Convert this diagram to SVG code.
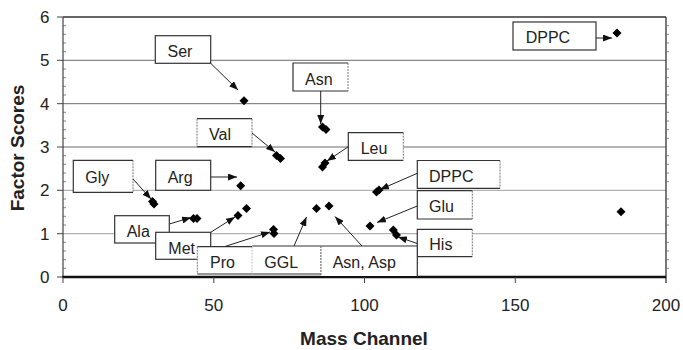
<svg xmlns="http://www.w3.org/2000/svg" xmlns:xlink="http://www.w3.org/1999/xlink" width="683" height="350" viewBox="0 0 683 350">
  <style>
    .grid { stroke: #6a6a6a; stroke-width: 1; }
    .gridl { stroke: #a0a0a0; stroke-width: 1; }
    .frame { stroke: #333; stroke-width: 1.3; fill: none; }
    .tick { stroke: #444; stroke-width: 1; }
    .mtick { stroke: #666; stroke-width: 0.8; }
    .tl { font-family: "Liberation Sans", Arial, sans-serif; font-size: 17px; fill: #222; }
    .title { font-family: "Liberation Sans", Arial, sans-serif; font-size: 19px; font-weight: bold; fill: #222; }
    .box { fill: #fff; stroke: none; }
    .edge { fill: none; stroke: #333; stroke-width: 1.2; }
    .dotted { fill: none; stroke: #777; stroke-width: 1; stroke-dasharray: 2 1; }
    .lbl { font-family: "Liberation Sans", Arial, sans-serif; font-size: 16px; fill: #222; }
    .conn { stroke: #222; stroke-width: 1; fill: none; marker-end: url(#ah); }
    .pt { fill: #000; }
  </style>
  <defs>
    <marker id="ah" markerUnits="userSpaceOnUse" markerWidth="9" markerHeight="7" refX="9" refY="3.5" orient="auto">
      <path d="M0,0 L9,3.5 L0,7 Z" fill="#111"/>
    </marker>
    <path id="dia" d="M0,-4.5 L4.5,0 L0,4.5 L-4.5,0 Z"/>
  </defs>

  <!-- plot area: x = 63 + mass*3.015, y = 277 - score*43.33 -->
  <g id="grid">
    <line class="gridl" x1="63" y1="233.7" x2="666" y2="233.7"/>
    <line class="gridl" x1="63" y1="190.3" x2="666" y2="190.3"/>
    <line class="grid" x1="63" y1="147" x2="666" y2="147"/>
    <line class="grid" x1="63" y1="103.7" x2="666" y2="103.7"/>
    <line class="grid" x1="63" y1="60.3" x2="666" y2="60.3"/>
  </g>

  <g id="axes">
    <!-- frame -->
    <line class="frame" x1="63" y1="17" x2="666" y2="17"/>
    <line class="frame" x1="666" y1="17" x2="666" y2="283"/>
    <line x1="63" y1="17" x2="63" y2="277" stroke="#444" stroke-width="1.2"/>
    <line x1="62" y1="277" x2="666" y2="277" stroke="#111" stroke-width="2.6"/>
    <!-- major y ticks -->
    <path class="tick" d="M57,17H63 M57,60.3H63 M57,103.7H63 M57,147H63 M57,190.3H63 M57,233.7H63 M57,277H63"/>
    <!-- minor y ticks, left and right -->
    <path class="mtick" d="M63,25.7h3 M63,34.3h3 M63,43h3 M63,51.7h3 M63,69h3 M63,77.7h3 M63,86.3h3 M63,95h3 M63,112.3h3 M63,121h3 M63,129.7h3 M63,138.3h3 M63,155.7h3 M63,164.3h3 M63,173h3 M63,181.7h3 M63,199h3 M63,207.7h3 M63,216.3h3 M63,225h3 M63,242.3h3 M63,251h3 M63,259.7h3 M63,268.3h3"/>
    <path class="mtick" d="M666,25.7h3 M666,34.3h3 M666,43h3 M666,51.7h3 M666,69h3 M666,77.7h3 M666,86.3h3 M666,95h3 M666,112.3h3 M666,121h3 M666,129.7h3 M666,138.3h3 M666,155.7h3 M666,164.3h3 M666,173h3 M666,181.7h3 M666,199h3 M666,207.7h3 M666,216.3h3 M666,225h3 M666,242.3h3 M666,251h3 M666,259.7h3 M666,268.3h3"/>
    <!-- x ticks -->
    <path class="tick" d="M63,277V283 M213.8,277V283 M364.5,277V283 M515.3,277V283"/>
    <!-- tick labels -->
    <g class="tl" text-anchor="end">
      <text x="49.5" y="23">6</text>
      <text x="49.5" y="66.3">5</text>
      <text x="49.5" y="109.7">4</text>
      <text x="49.5" y="153">3</text>
      <text x="49.5" y="196.3">2</text>
      <text x="49.5" y="239.7">1</text>
      <text x="49.5" y="283">0</text>
    </g>
    <g class="tl" text-anchor="middle">
      <text x="63" y="310.5">0</text>
      <text x="213.8" y="310.5">50</text>
      <text x="364.5" y="310.5">100</text>
      <text x="515.3" y="310.5">150</text>
      <text x="666" y="310.5">200</text>
    </g>
    <text class="title" x="364" y="345" text-anchor="middle">Mass Channel</text>
    <text class="title" transform="translate(23.5,148) rotate(-90)" text-anchor="middle">Factor Scores</text>
  </g>

  <!-- label boxes -->
  <g id="lbl-ser">
    <rect class="box" x="155.3" y="35.7" width="55.4" height="27.6"/>
    <rect class="edge" x="155.3" y="35.7" width="55.4" height="27.6"/>
    <text class="lbl" x="167.5" y="57.3">Ser</text>
  </g>
  <g id="lbl-asn">
    <rect class="box" x="293" y="63" width="55" height="28"/>
    <path class="edge" d="M348,63H293V91H348"/>
    <path class="dotted" d="M348,63V91"/>
    <text class="lbl" x="305" y="85">Asn</text>
  </g>
  <g id="lbl-val">
    <rect class="box" x="197" y="118.7" width="55" height="28"/>
    <path class="edge" d="M197,118.7H252 M197,146.7H252"/>
    <path class="dotted" d="M197,118.7V146.7 M252,118.7V146.7"/>
    <text class="lbl" x="209" y="140">Val</text>
  </g>
  <g id="lbl-leu">
    <rect class="box" x="348.3" y="132.7" width="55" height="27.6"/>
    <path class="edge" d="M403.3,132.7H348.3V160.3H403.3"/>
    <path class="dotted" d="M403.3,132.7V160.3"/>
    <text class="lbl" x="360.7" y="154.3">Leu</text>
  </g>
  <g id="lbl-dppc-top">
    <rect class="box" x="513" y="22" width="83" height="28"/>
    <rect class="edge" x="513" y="22" width="83" height="28"/>
    <text class="lbl" x="525.7" y="43.3">DPPC</text>
  </g>
  <g id="lbl-gly">
    <rect class="box" x="73.3" y="160.3" width="59.7" height="32"/>
    <path class="edge" d="M133,160.3H73.3V192.3H133"/>
    <path class="dotted" d="M133,160.3V192.3"/>
    <text class="lbl" x="85.3" y="182.7">Gly</text>
  </g>
  <g id="lbl-arg">
    <rect class="box" x="155.7" y="160.3" width="55" height="30"/>
    <rect class="edge" x="155.7" y="160.3" width="55" height="30"/>
    <text class="lbl" x="167.7" y="183">Arg</text>
  </g>
  <g id="lbl-dppc-mid">
    <rect class="box" x="417.3" y="160.5" width="82.7" height="27.8"/>
    <path class="edge" d="M500,160.5H417.3V188.3H500"/>
    <path class="dotted" d="M500,160.5V188.3"/>
    <text class="lbl" x="429" y="181.7">DPPC</text>
  </g>
  <g id="lbl-glu">
    <rect class="box" x="417.3" y="190.7" width="55" height="28.3"/>
    <path class="edge" d="M472.3,190.7H417.3V219H472.3"/>
    <path class="dotted" d="M472.3,190.7V219"/>
    <text class="lbl" x="429" y="211.7">Glu</text>
  </g>
  <g id="lbl-his">
    <rect class="box" x="417.3" y="229.3" width="55" height="27.4"/>
    <path class="edge" d="M472.3,229.3H417.3V256.7H472.3"/>
    <path class="dotted" d="M472.3,229.3V256.7"/>
    <text class="lbl" x="429.3" y="250">His</text>
  </g>
  <g id="lbl-ala">
    <rect class="box" x="114.7" y="215.7" width="54.6" height="27.3"/>
    <rect class="edge" x="114.7" y="215.7" width="54.6" height="27.3"/>
    <text class="lbl" x="126.7" y="236.7">Ala</text>
  </g>
  <g id="lbl-met">
    <rect class="box" x="155.7" y="232.3" width="55" height="27"/>
    <rect class="edge" x="155.7" y="232.3" width="55" height="27"/>
    <text class="lbl" x="168.3" y="254">Met</text>
  </g>
  <g id="lbl-pro">
    <rect class="box" x="197.3" y="246.7" width="55" height="27.3"/>
    <path class="edge" d="M197.3,246.7H252.3 M197.3,274H252.3"/>
    <path class="dotted" d="M197.3,246.7V274 M252.3,246.7V274"/>
    <text class="lbl" x="210" y="268.3">Pro</text>
  </g>
  <g id="lbl-ggl">
    <rect class="box" x="252.3" y="246" width="68.7" height="28"/>
    <path class="edge" d="M252.3,246H321 M252.3,274H321"/>
    <path class="dotted" d="M321,246V274"/>
    <text class="lbl" x="264.3" y="268.3">GGL</text>
  </g>
  <g id="lbl-asn-asp">
    <rect class="box" x="321" y="246" width="96.3" height="30"/>
    <path class="edge" d="M321,246H417.3V277"/>
    <path class="dotted" d="M321,246V276"/>
    <text class="lbl" x="332.7" y="268.3">Asn, Asp</text>
  </g>

  <!-- connectors -->
  <g id="connectors">
    <line class="conn" x1="210.7" y1="63.3" x2="238" y2="90"/>
    <line class="conn" x1="320.7" y1="91" x2="320.7" y2="124"/>
    <line class="conn" x1="252" y1="133" x2="275" y2="152"/>
    <line class="conn" x1="348.3" y1="146.7" x2="327" y2="161"/>
    <line class="conn" x1="596" y1="38" x2="612" y2="38"/>
    <line class="conn" x1="210.7" y1="177" x2="237" y2="177"/>
    <line class="conn" x1="133" y1="179" x2="151" y2="199"/>
    <line class="conn" x1="417.3" y1="173.3" x2="380" y2="189.5"/>
    <line class="conn" x1="417.3" y1="206" x2="377" y2="222.5"/>
    <line class="conn" x1="417.3" y1="243.5" x2="398" y2="237"/>
    <line class="conn" x1="169.3" y1="224" x2="191" y2="217.5"/>
    <line class="conn" x1="210.7" y1="232.3" x2="235" y2="217"/>
    <line class="conn" x1="225" y1="246.5" x2="270" y2="232"/>
    <line class="conn" x1="294" y1="246" x2="306.5" y2="217"/>
    <line class="conn" x1="362" y1="246" x2="335" y2="216.5"/>
  </g>

  <!-- data points -->
  <g id="points" class="pt">
    <use xlink:href="#dia" x="244" y="100.7"/>
    <use xlink:href="#dia" x="322.5" y="127"/>
    <use xlink:href="#dia" x="326" y="129.5"/>
    <use xlink:href="#dia" x="276.5" y="155.5"/>
    <use xlink:href="#dia" x="280.5" y="158.5"/>
    <use xlink:href="#dia" x="322.5" y="167"/>
    <use xlink:href="#dia" x="325" y="163"/>
    <use xlink:href="#dia" x="240.7" y="185.7"/>
    <use xlink:href="#dia" x="154" y="204"/>
    <use xlink:href="#dia" x="152.5" y="201.5"/>
    <use xlink:href="#dia" x="376.5" y="192"/>
    <use xlink:href="#dia" x="379" y="190"/>
    <use xlink:href="#dia" x="193.5" y="218.5"/>
    <use xlink:href="#dia" x="197" y="218.5"/>
    <use xlink:href="#dia" x="238" y="215.5"/>
    <use xlink:href="#dia" x="246.5" y="208.5"/>
    <use xlink:href="#dia" x="273.5" y="229.5"/>
    <use xlink:href="#dia" x="274" y="233.5"/>
    <use xlink:href="#dia" x="316.5" y="208.5"/>
    <use xlink:href="#dia" x="329" y="206"/>
    <use xlink:href="#dia" x="370" y="226"/>
    <use xlink:href="#dia" x="393.3" y="230"/>
    <use xlink:href="#dia" x="396.5" y="235"/>
    <use xlink:href="#dia" x="621" y="211.7"/>
    <use xlink:href="#dia" x="617" y="33"/>
  </g>
</svg>
